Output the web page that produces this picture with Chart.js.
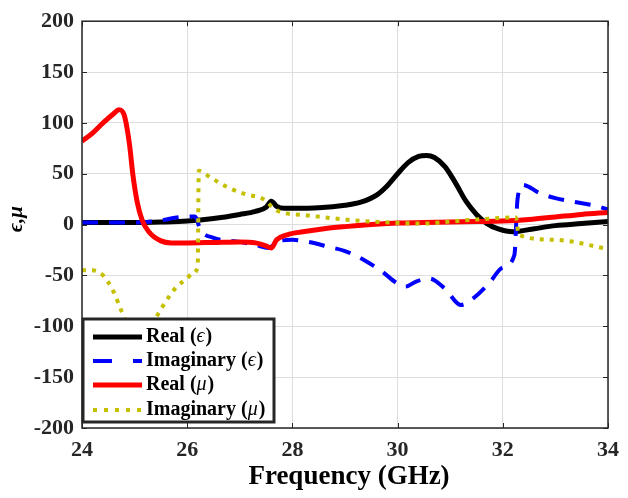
<!DOCTYPE html>
<html>
<head>
<meta charset="utf-8">
<script src="https://cdn.jsdelivr.net/npm/chart.js@4.4.1/dist/chart.umd.min.js"></script>
<style>
  html, body { margin: 0; padding: 0; background: #fff; }
  #wrap { width: 628px; height: 498px; }
</style>
</head>
<body>
<div id="wrap"><canvas id="chart" width="628" height="498"></canvas></div>
<script>
// values
const xTicks = [24, 26, 28, 30, 32, 34];
const yTicks = [-200, -150, -100, -50, 0, 50, 100, 150, 200];

const freqRealEps = [24, 24.5, 25, 25.5, 26, 26.5, 27, 27.3, 27.5, 27.6, 27.7, 27.85, 28, 28.5, 29, 29.3, 29.6, 29.8, 30, 30.2, 30.4, 30.55, 30.7, 30.9, 31.1, 31.3, 31.5, 31.7, 31.9, 32.2, 32.6, 33, 33.5, 34];
const realEps     = [2, 2, 2, 2.5, 3.5, 6, 10, 13, 17, 23, 18, 16, 16, 16.5, 19, 22, 29, 38, 50, 61, 67, 68, 66, 57, 41, 23, 10, 1, -4, -7, -4, -1, 1, 3];

const freqImagEps = [24, 24.5, 25, 25.5, 25.8, 26.15, 26.25, 26.5, 27, 27.3, 27.55, 27.7, 28, 28.3, 28.7, 29, 29.4, 29.7, 30, 30.15, 30.35, 30.6, 30.9, 31.2, 31.45, 31.75, 32, 32.22, 32.28, 32.38, 32.7, 33, 33.4, 33.8, 34];
const imagEps     = [2, 2, 2, 4, 7, 8, -5, -13, -17, -20, -23, -17, -15, -17, -22, -26, -36, -46, -58, -61, -56, -53, -63, -79, -72, -57, -42, -30, 25, 39, 31, 26, 22, 18, 15];

const freqRealMu = [24, 24.2, 24.4, 24.6, 24.7, 24.8, 24.9, 24.97, 25.05, 25.14, 25.27, 25.5, 25.7, 26, 26.5, 27, 27.3, 27.5, 27.6, 27.7, 27.9, 28.2, 28.6, 29, 29.5, 30, 30.5, 31, 31.5, 32, 32.5, 33, 33.5, 34];
const realMu     = [82, 90, 100, 109, 113, 108, 80, 48, 22, 5, -7, -16, -18, -18, -17.5, -17, -18, -21, -23, -15, -10, -7, -4, -2, 0, 1.5, 2, 2.5, 3, 3.5, 5, 7.5, 10, 12];

const freqImagMu = [24, 24.2, 24.4, 24.6, 24.75, 24.9, 25.1, 25.3, 25.4, 25.6, 25.8, 26, 26.1, 26.2, 26.22, 26.45, 26.8, 27.1, 27.45, 27.7, 28.3, 29, 29.7, 30.5, 31, 31.5, 32.25, 32.3, 33, 34];
const imagMu     = [-45, -45, -50, -66, -85, -102, -108, -100, -92, -75, -61, -53, -48, -41, 53, 46, 36, 30, 25, 14, 9, 5, 2.4, 1, 3, 5, 7, -10, -15, -24];

const serif = '"Liberation Serif", "Times New Roman", serif';

function pts(xs, ys) {
    return xs.map((x, i) => ({ x: x, y: ys[i] }));
}

// legend entries (drawn inside the plot, bottom-left, like MATLAB)
const legendItems = [
    { pre: 'Real (', sym: '\u03F5', color: '#000000', width: 5, dash: [] },
    { pre: 'Imaginary (', sym: '\u03F5', color: '#0000ff', width: 4, dash: [19, 21] },
    { pre: 'Real (', sym: '\u03BC', color: '#ff0000', width: 5, dash: [] },
    { pre: 'Imaginary (', sym: '\u03BC', color: '#c4c000', width: 4, dash: [4, 7] }
];

const framePlugin = {
    id: 'frame',
    afterDraw(chart) {
        const { ctx, chartArea: a, scales } = chart;
        ctx.save();
        // axes box
        ctx.strokeStyle = '#262626';
        ctx.lineWidth = 1.5;
        ctx.strokeRect(a.left, a.top, a.right - a.left, a.bottom - a.top);
        // inward ticks on all sides
        ctx.lineWidth = 1;
        ctx.beginPath();
        xTicks.forEach(v => {
            const px = Math.round(scales.x.getPixelForValue(v)) + 0.5;
            ctx.moveTo(px, a.bottom); ctx.lineTo(px, a.bottom - 5);
            ctx.moveTo(px, a.top); ctx.lineTo(px, a.top + 5);
        });
        yTicks.forEach(v => {
            const py = Math.round(scales.y.getPixelForValue(v)) + 0.5;
            ctx.moveTo(a.left, py); ctx.lineTo(a.left + 5, py);
            ctx.moveTo(a.right, py); ctx.lineTo(a.right - 5, py);
        });
        ctx.stroke();

        // axis titles
        ctx.fillStyle = '#000';
        ctx.textAlign = 'center';
        ctx.textBaseline = 'middle';
        ctx.font = 'bold 27px ' + serif;
        ctx.fillText('Frequency (GHz)', (a.left + a.right) / 2 + 4, 477);

        ctx.translate(17, 219);
        ctx.rotate(-Math.PI / 2);
        ctx.font = 'italic bold 21px ' + serif;
        ctx.fillText('\u03F5,\u03BC', 0, 0);
        ctx.restore();

        // legend box
        ctx.save();
        const bx = 83, by = 319, bw = 191, bh = 103;
        ctx.fillStyle = '#fff';
        ctx.fillRect(bx, by, bw, bh);
        ctx.strokeStyle = '#262626';
        ctx.lineWidth = 3;
        ctx.strokeRect(bx, by, bw, bh);
        const rowY = [337, 361, 385, 410];
        legendItems.forEach((it, i) => {
            const y = rowY[i];
            ctx.beginPath();
            ctx.strokeStyle = it.color;
            ctx.lineWidth = it.width;
            ctx.setLineDash(it.dash);
            ctx.moveTo(93, y);
            ctx.lineTo(142, y);
            ctx.stroke();
            ctx.setLineDash([]);

            ctx.fillStyle = '#000';
            ctx.textAlign = 'left';
            ctx.textBaseline = 'middle';
            let x = 146;
            ctx.font = 'bold 20px ' + serif;
            ctx.fillText(it.pre, x, y);
            x += ctx.measureText(it.pre).width;
            ctx.font = 'italic 20px ' + serif;
            ctx.fillText(it.sym, x, y);
            x += ctx.measureText(it.sym).width + 1;
            ctx.font = 'bold 20px ' + serif;
            ctx.fillText(')', x, y);
        });
        ctx.restore();
    }
};

const ctx = document.getElementById('chart').getContext('2d');

new Chart(ctx, {
    type: 'line',
    data: {
        datasets: [
            {
                label: 'Real (\u03F5)',
                data: pts(freqRealEps, realEps),
                borderColor: '#000000',
                borderWidth: 5,
                order: 4
            },
            {
                label: 'Imaginary (\u03F5)',
                data: pts(freqImagEps, imagEps),
                borderColor: '#0000ff',
                borderWidth: 4,
                borderDash: [16, 11],
                order: 3
            },
            {
                label: 'Real (\u03BC)',
                data: pts(freqRealMu, realMu),
                borderColor: '#ff0000',
                borderWidth: 5,
                order: 2
            },
            {
                label: 'Imaginary (\u03BC)',
                data: pts(freqImagMu, imagMu),
                borderColor: '#c4c000',
                borderWidth: 4,
                borderDash: [4, 6],
                order: 1
            }
        ]
    },
    options: {
        responsive: false,
        animation: false,
        events: [],
        layout: { padding: { left: 0, right: 12, top: 17, bottom: 0 } },
        elements: {
            point: { radius: 0 },
            line: { cubicInterpolationMode: 'monotone', fill: false, borderCapStyle: 'butt', borderJoinStyle: 'round' }
        },
        plugins: {
            legend: { display: false },
            tooltip: { enabled: false }
        },
        scales: {
            x: {
                type: 'linear',
                min: 24,
                max: 34,
                afterBuildTicks: s => { s.ticks = xTicks.map(v => ({ value: v })); },
                afterFit: s => { s.height = 70; },
                grid: { color: '#dedede', lineWidth: 1, drawTicks: false },
                border: { display: false },
                ticks: {
                    padding: 9,
                    color: '#262626',
                    font: { family: serif, size: 22, weight: 'bold' }
                }
            },
            y: {
                type: 'linear',
                min: -200,
                max: 200,
                afterBuildTicks: s => { s.ticks = yTicks.map(v => ({ value: v })); },
                afterFit: s => { s.width = 82; },
                grid: { color: '#dedede', lineWidth: 1, drawTicks: false },
                border: { display: false },
                ticks: {
                    padding: 8,
                    color: '#262626',
                    font: { family: serif, size: 22, weight: 'bold' }
                }
            }
        }
    },
    plugins: [framePlugin]
});
</script>
</body>
</html>
